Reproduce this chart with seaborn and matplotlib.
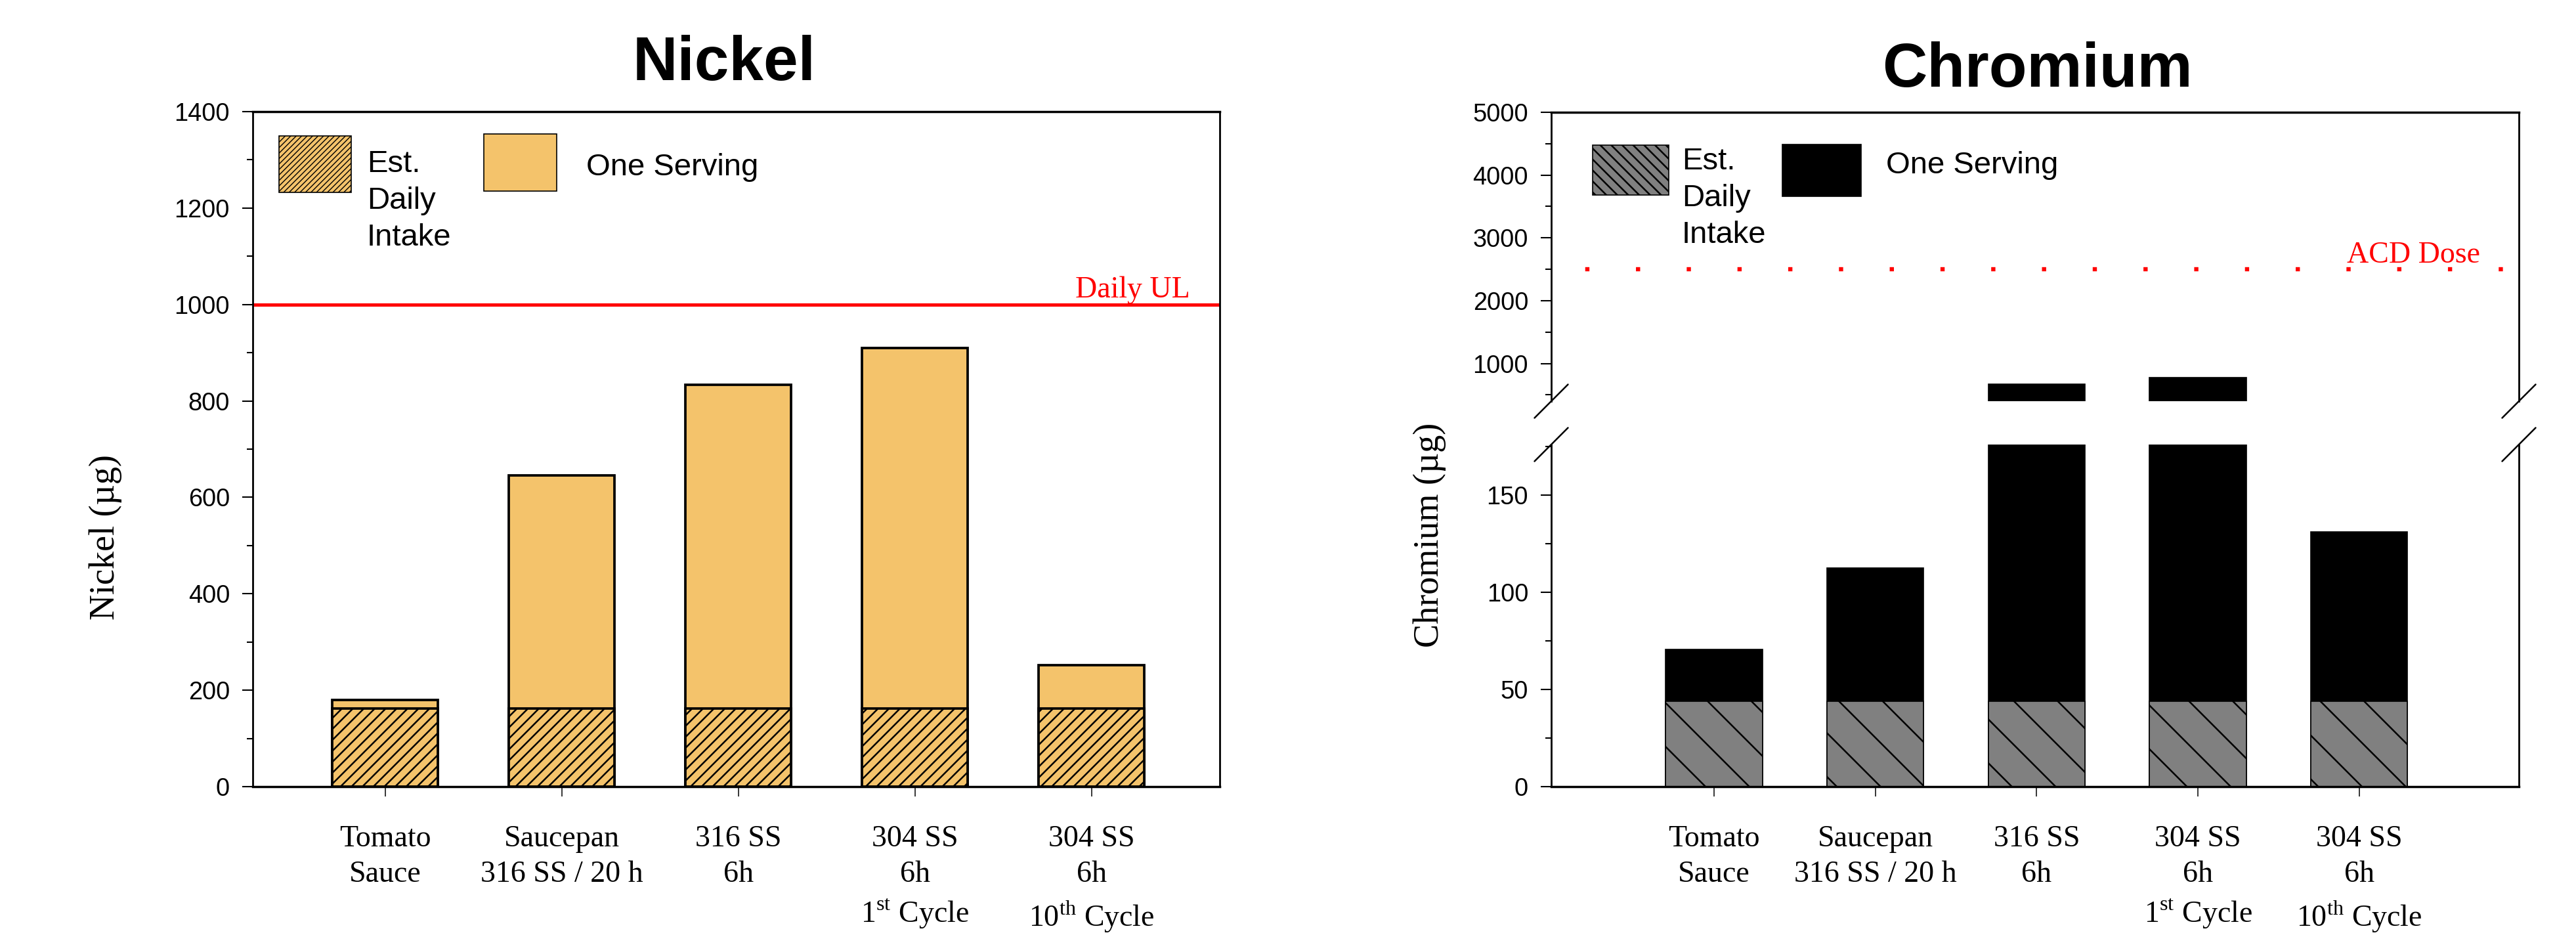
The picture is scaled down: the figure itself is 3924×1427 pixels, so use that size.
import numpy as np
import pandas as pd
import matplotlib
matplotlib.use("Agg")
from matplotlib import pyplot as plt
from matplotlib.patches import Rectangle
from matplotlib.ticker import MultipleLocator
import seaborn as sns

# values
labels = ["Tomato\nSauce", "Saucepan\n316 SS / 20 h", "316 SS\n6h",
          "304 SS\n6h\n1$^{\\mathrm{st}}$ Cycle",
          "304 SS\n6h\n10$^{\\mathrm{th}}$ Cycle"]
nickel_serving = [180, 646, 833, 910, 252]
nickel_daily = [162, 162, 162, 162, 162]
chromium_serving = [70.5, 112.6, 675, 778, 131]
chromium_daily = [44, 44, 44, 44, 44]
nickel_ul = 1000
chromium_acd = 2500
legend_labels = ["Est.\nDaily\nIntake", "One Serving"]

nickel_color = "#F4C36B"
daily_gray = "#808080"
serif = "Liberation Serif"

W, H = 3924, 1427  # output size in pixels


def px_box(x0, y0, x1, y1):
    """figure-fraction [left, bottom, width, height] from pixel corners"""
    return [x0 / W, 1 - y1 / H, (x1 - x0) / W, (y1 - y0) / H]


sns.set_style("ticks")
plt.rcParams["font.family"] = ["Liberation Sans", "DejaVu Sans"]
plt.rcParams["mathtext.fontset"] = "custom"
plt.rcParams["mathtext.rm"] = serif
plt.rcParams["hatch.linewidth"] = 0.9
plt.rcParams["text.color"] = "black"
plt.rcParams["axes.labelcolor"] = "black"
plt.rcParams["axes.edgecolor"] = "black"
plt.rcParams["xtick.color"] = "black"
plt.rcParams["ytick.color"] = "black"

fig = plt.figure(figsize=(W / 200, H / 200), dpi=200)


def style_axes(ax, major, minor):
    ax.yaxis.set_major_locator(MultipleLocator(major))
    ax.yaxis.set_minor_locator(MultipleLocator(minor))
    ax.tick_params(axis="y", which="major", direction="out", length=5.8,
                   width=0.75, pad=6.8, labelsize=13.7)
    ax.tick_params(axis="y", which="minor", direction="out", length=3.2,
                   width=0.75)
    ax.tick_params(axis="x", direction="out", length=5.4, width=0.55, pad=15.5)
    ax.set_xticks(range(len(labels)), labels=labels, fontfamily=serif,
                  fontsize=16.5, linespacing=1.36)
    ax.set_xlabel("")
    ax.set_ylabel("")
    for side in ["left", "right"]:
        ax.spines[side].set_linewidth(1.0)
    for side in ["top", "bottom"]:
        ax.spines[side].set_linewidth(1.25)


def legend_entry(box, face, hatch, label, text_x, text_top, hatch_lw=None):
    rect = Rectangle((box[0], box[1]), box[2], box[3], transform=fig.transFigure,
                     facecolor=face, edgecolor="black", lw=0.6, hatch=hatch)
    if hatch_lw is not None and hasattr(rect, "set_hatch_linewidth"):
        rect.set_hatch_linewidth(hatch_lw)
    fig.add_artist(rect)
    fig.text(text_x / W, 1 - text_top / H, label, ha="left", va="top",
             fontsize=17, linespacing=1.36)


# ---- Nickel ----
ax1 = fig.add_axes(px_box(385, 170, 1858, 1198))
sns.barplot(x=labels, y=nickel_serving, color=nickel_color, saturation=1,
            width=0.6, edgecolor="black", linewidth=1.35, errorbar=None, ax=ax1)
sns.barplot(x=labels, y=nickel_daily, color=nickel_color, saturation=1,
            width=0.6, edgecolor="black", linewidth=1.35, hatch="////",
            errorbar=None, ax=ax1)
ax1.axhline(nickel_ul, color="red", lw=1.8)
ax1.text(0.969, nickel_ul + 15, "Daily UL", transform=ax1.get_yaxis_transform(),
         ha="right", va="baseline", color="red", fontfamily=serif, fontsize=16.5)
ax1.set_ylim(0, 1400)
ax1.set_xlim(-0.75, 4.726)
style_axes(ax1, 200, 100)

fig.text(1103 / W, 1 - 122 / H, "Nickel", ha="center", va="baseline",
         fontsize=34, fontweight="bold")
fig.text(161 / W, 1 - 818 / H, "Nickel (µg)", rotation=90, ha="center",
         va="center", fontfamily=serif, fontsize=19.5)
legend_entry(px_box(425, 207, 535, 293), nickel_color, "/" * 8,
             legend_labels[0], 559, 228, hatch_lw=0.5)
legend_entry(px_box(737, 204, 848, 291), nickel_color, None,
             legend_labels[1], 893, 233)

# ---- Chromium (broken y axis) ----
ax_top = fig.add_axes(px_box(2363, 171, 3837, 611))
ax_bot = fig.add_axes(px_box(2363, 677, 3837, 1198))
for ax in (ax_top, ax_bot):
    sns.barplot(x=labels, y=chromium_serving, color="black", saturation=1,
                width=0.6, edgecolor="black", linewidth=0.6, errorbar=None, ax=ax)
    sns.barplot(x=labels, y=chromium_daily, color=daily_gray, saturation=1,
                width=0.6, edgecolor="black", linewidth=0.6, hatch="\\",
                errorbar=None, ax=ax)
    ax.set_xlim(-1.01, 4.99)

ax_top.set_ylim(400, 5000)
ax_bot.set_ylim(0, 176)
style_axes(ax_top, 1000, 500)
style_axes(ax_bot, 50, 25)
ax_top.spines["bottom"].set_visible(False)
ax_top.tick_params(axis="x", bottom=False, labelbottom=False)
ax_bot.spines["top"].set_visible(False)

ax_top.axhline(chromium_acd, color="red", lw=2.3, linestyle=(4, (1, 11.1)))
ax_top.text(0.96, chromium_acd + 104, "ACD Dose",
            transform=ax_top.get_yaxis_transform(), ha="right", va="baseline",
            color="red", fontfamily=serif, fontsize=16.5)

# diagonal break marks on both sides
for ax, y, dy in ((ax_top, 0, 0.058), (ax_bot, 1, 0.049)):
    for x in (0, 1):
        ax.plot([x - 0.0173, x + 0.0173], [y - dy, y + dy], transform=ax.transAxes,
                color="black", lw=0.9, clip_on=False)

fig.text(3103 / W, 1 - 132 / H, "Chromium", ha="center", va="baseline",
         fontsize=34, fontweight="bold")
fig.text(2178 / W, 1 - 815 / H, "Chromium (µg)", rotation=90, ha="center",
         va="center", fontfamily=serif, fontsize=19.5)
legend_entry(px_box(2426, 221, 2542, 297), daily_gray, "\\" * 4,
             legend_labels[0], 2562, 224)
legend_entry(px_box(2715, 220, 2835, 299), "black", None,
             legend_labels[1], 2873, 230)

fig.savefig("out.png", dpi=200)
